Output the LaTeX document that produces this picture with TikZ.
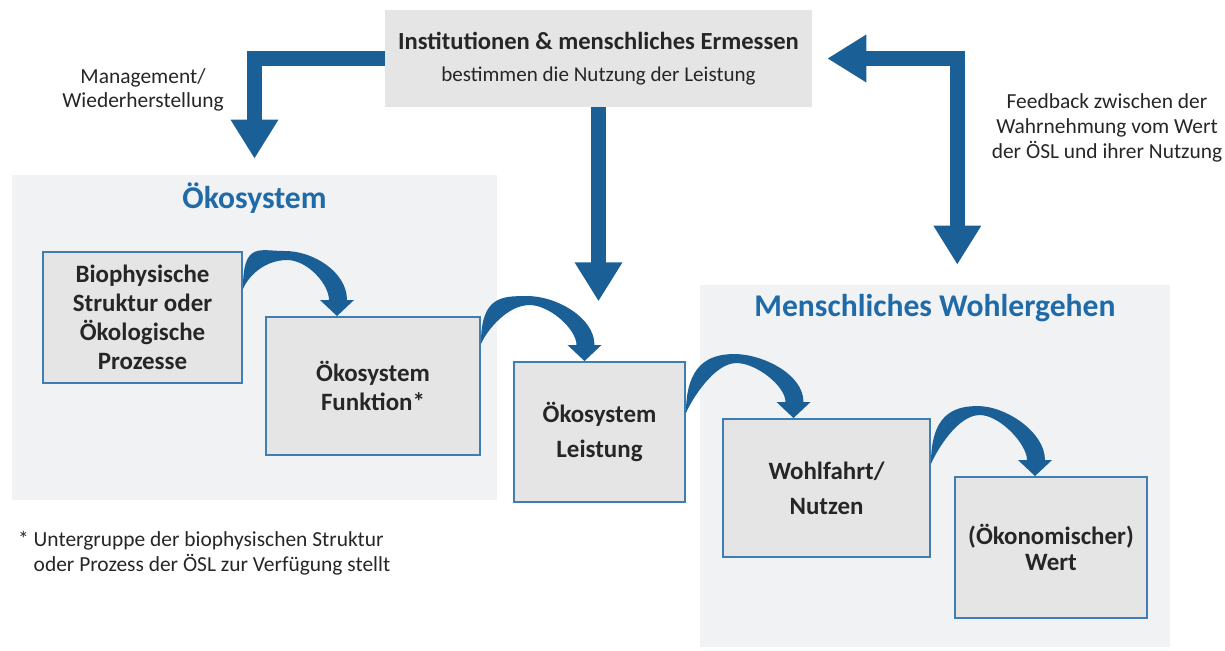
\documentclass[tikz,border=0pt]{standalone}
\usepackage{fontspec}
\setmainfont{Carlito}
\usetikzlibrary{arrows.meta,calc,positioning}

\definecolor{arrowblue}{HTML}{1B5F97}
\definecolor{titleblue}{HTML}{1F6AA7}
\definecolor{boxline}{HTML}{3F7DB2}
\definecolor{boxfill}{HTML}{E5E5E5}
\definecolor{panelfill}{HTML}{F1F2F4}
\definecolor{textgray}{HTML}{262626}

\tikzset{
  fathead/.tip={Triangle[width=0.9cm,length=0.78cm]},
  panel/.style={fill=panelfill,inner sep=0pt},
  stage/.style={draw=boxline,line width=1.1pt,fill=boxfill,align=center,inner sep=0pt,
    text=textgray,font=\fontsize{14.2}{16.5}\selectfont\bfseries},
  note/.style={align=center,text=textgray,font=\fontsize{12.2}{14.2}\selectfont},
  bigarrow/.style={draw=arrowblue,line width=0.3cm,line join=miter,-fathead},
}

% bent arrow from a box corner (#1) to a tip (#2), #3 = lift of the bow, #4 = tail length
\newcommand\bendarrow[4]{%
  \coordinate (ba-a) at (#1);
  \coordinate (ba-t) at (#2);
  \coordinate (ba-mx) at ($(ba-a)!0.45!(ba-t)$);
  \coordinate (ba-m) at (ba-mx |- ba-a);
  \fill[arrowblue] ($(ba-a)+(0,#4)$)
    .. controls ($(ba-a)+(0,#4-48)$) and ($(ba-m)+(-26,-#3)$) .. ($(ba-m)+(0,-#3)$)
    .. controls ($(ba-m)+(28,-#3)$) and ($(ba-t)+(10,-44)$) .. ($(ba-t)+(10,-16)$)
    -- ($(ba-t)+(17,-16)$) -- (ba-t) -- ($(ba-t)+(-17,-16)$) -- ($(ba-t)+(-8,-16)$)
    .. controls ($(ba-t)+(-8,-32)$) and ($(ba-m)+(22,-#3+9)$) .. ($(ba-m)+(2,-#3+9)$)
    .. controls ($(ba-m)+(-20,-#3+9)$) and ($(ba-a)+(6,#4-14)$) .. ($(ba-a)+(0,#4)$)
    -- cycle;
}

\begin{document}
\begin{tikzpicture}[x=0.02cm,y=-0.02cm]
\useasboundingbox (0,0) rectangle (1225,651);

% panels
\node[panel,minimum width=9.7cm,minimum height=6.5cm] (okopanel) at (254.5,337.5) {};
\node[panel,minimum width=9.4cm,minimum height=7.24cm] (menpanel) at (935,466) {};
\node[text=titleblue,font=\fontsize{18}{21}\selectfont\bfseries] (okotitle) at ($(okopanel.north)+(0,23)$) {Ökosystem};
\node[text=titleblue,font=\fontsize{18}{21}\selectfont\bfseries] (mentitle) at ($(menpanel.north)+(0,23)$) {Menschliches Wohlergehen};

% top box
\node[fill=boxfill,minimum width=8.54cm,minimum height=1.94cm,align=center,text=textgray] (inst) at (598.5,58.5)
  {\fontsize{14}{16}\selectfont\bfseries Institutionen \& menschliches Ermessen\\[6pt]
   \fontsize{12}{14}\selectfont bestimmen die Nutzung der Leistung};

% stages
\node[stage,minimum width=3.98cm,minimum height=2.62cm] (bio) at (142.5,317.5) {Biophysische\\Struktur oder\\Ökologische\\Prozesse};
\node[stage,minimum width=4.28cm,minimum height=2.76cm] (funk) at (373,386) {Ökosystem\\Funktion*};
\node[stage,minimum width=3.42cm,minimum height=2.8cm] (leist) at (599.5,432) {Ökosystem\\[3.5pt]Leistung};
\node[stage,minimum width=4.14cm,minimum height=2.76cm] (wohl) at (826.5,488) {Wohlfahrt/\\[3.5pt]Nutzen};
\node[stage,minimum width=3.84cm,minimum height=2.82cm] (wert) at (1051,547.5) {(Ökonomischer)\\[-1.5pt]Wert};

% labels
\node[note,font=\fontsize{12.2}{13.6}\selectfont] (mgmt) at (143,90) {Management/\\Wiederherstellung};
\node[note] (feedback) at (1107,128) {Feedback zwischen der\\Wahrnehmung vom Wert\\der ÖSL und ihrer Nutzung};
\node[note,align=left,anchor=west] (footnote) at (12,553.5) {* Untergruppe der biophysischen Struktur\\\phantom{* }oder Prozess der ÖSL zur Verfügung stellt};

% straight arrows
\coordinate (mgmtcorner) at (inst.west -| okopanel.north);
\coordinate (mgmttip) at ($(okopanel.north)+(0,-16)$);
\draw[bigarrow] (inst.west) -- (mgmtcorner) -- (mgmttip);

\coordinate (usetip) at ($(inst.south)+(0,194)$);
\draw[bigarrow] (inst.south) -- (usetip);

\coordinate (fbtip) at ($(inst.east)+(15,0)$);
\coordinate (fbcorner) at ($(inst.east)+(145,0)$);
\coordinate (fbfoot) at (fbcorner |- menpanel.north);
\coordinate (fbend) at ($(fbfoot)+(0,-20)$);
\draw[bigarrow,fathead-fathead] (fbtip) -- (fbcorner) -- (fbend);

% bent arrows between the stages
\bendarrow{bio.north east}{$(funk.north)+(-36,0)$}{0}{38}
\bendarrow{funk.north east}{$(leist.north)+(-15,0)$}{20}{28}
\bendarrow{leist.north east}{$(wohl.north)+(-33,0)$}{7}{52}
\bendarrow{wohl.north east}{$(wert.north)+(-16,0)$}{12}{46}
\end{tikzpicture}
\end{document}
